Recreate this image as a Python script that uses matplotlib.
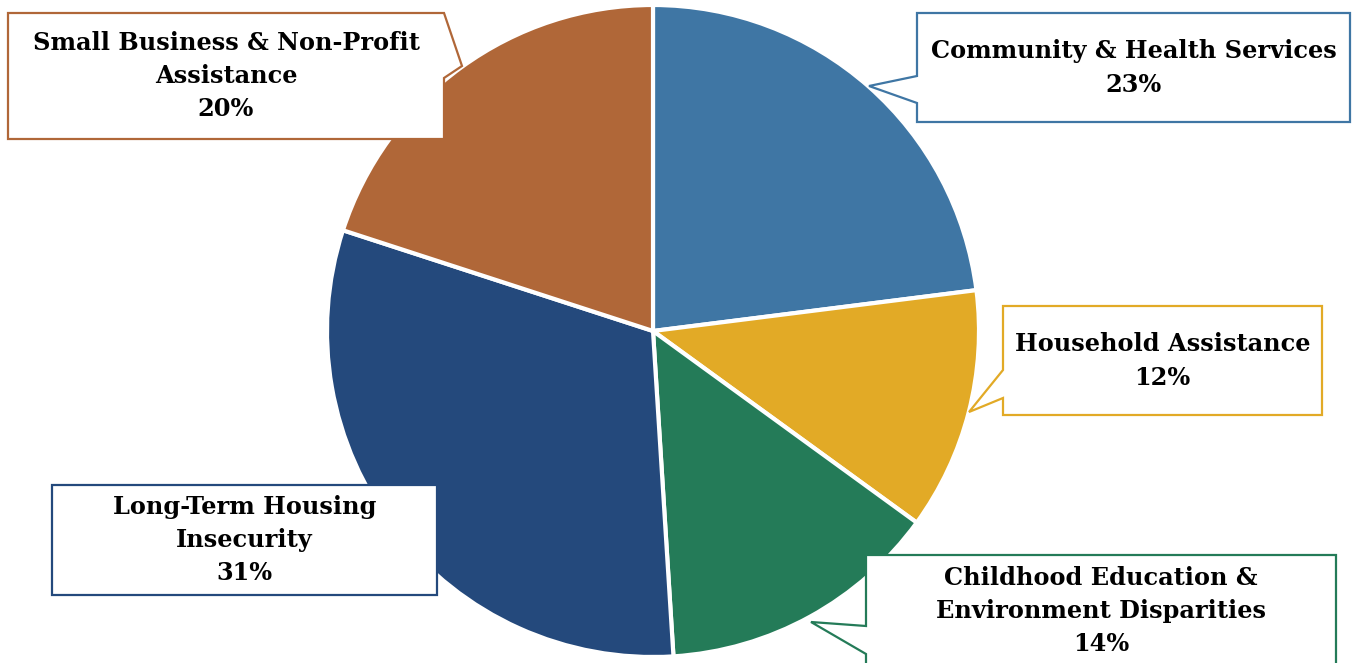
import matplotlib.pyplot as plt
from matplotlib.patches import Polygon

# pie data, clockwise from 12 o'clock
categories = [
    "Community & Health Services",
    "Household Assistance",
    "Childhood Education &\nEnvironment Disparities",
    "Long-Term Housing\nInsecurity",
    "Small Business & Non-Profit\nAssistance",
]
shares = [23, 12, 14, 31, 20]
colors = ["#3F76A4", "#E2AA26", "#247B58", "#24497C", "#B06738"]

W, H = 1358, 663

fig = plt.figure(figsize=(W / 100, H / 100), dpi=100)
ax = fig.add_axes([0, 0, 1, 1])

ax.pie(shares, colors=colors, startangle=90, counterclock=False,
       center=(653, H - 331), radius=326,
       wedgeprops=dict(edgecolor="white", linewidth=3))
ax.set_xlim(0, W)
ax.set_ylim(0, H)
ax.set_aspect("auto")
ax.axis("off")

# callout boxes: (x0, y0, x1, y1) in pixels from top-left, pointer side, base pair, tip, text centre y
callouts = [
    ((917, 13, 1350, 122), "left", (76, 103), (869, 86), 68),
    ((1003, 306, 1322, 415), "left", (370, 398), (969, 412), 361),
    ((866, 555, 1336, 675), "left", (626, 654), (811, 622), 611),
    ((52, 485, 437, 595), None, None, None, 540),
    ((8, 13, 444, 139), "right", (13, 78), (462, 66), 76),
]


def box_path(rect, side, base, tip):
    x0, y0, x1, y1 = rect
    if side == "left":
        pts = [(x0, y0), (x1, y0), (x1, y1), (x0, y1), (x0, base[1]), tip, (x0, base[0])]
    elif side == "right":
        pts = [(x0, y0), (x1, base[0]), tip, (x1, base[1]), (x1, y1), (x0, y1)]
    else:
        pts = [(x0, y0), (x1, y0), (x1, y1), (x0, y1)]
    return [(x, H - y) for x, y in pts]


for cat, val, col, (rect, side, base, tip, cy) in zip(categories, shares, colors, callouts):
    ax.add_patch(Polygon(box_path(rect, side, base, tip), closed=True,
                         facecolor="white", edgecolor=col, linewidth=1.6, zorder=5))
    x0, y0, x1, y1 = rect
    ax.text((x0 + x1) / 2, H - cy, f"{cat}\n{val}%", ha="center", va="center",
            fontsize=17.3, fontweight="bold", family="DejaVu Serif",
            linespacing=1.48, color="black", zorder=6)

fig.savefig("out.png", dpi=100)
